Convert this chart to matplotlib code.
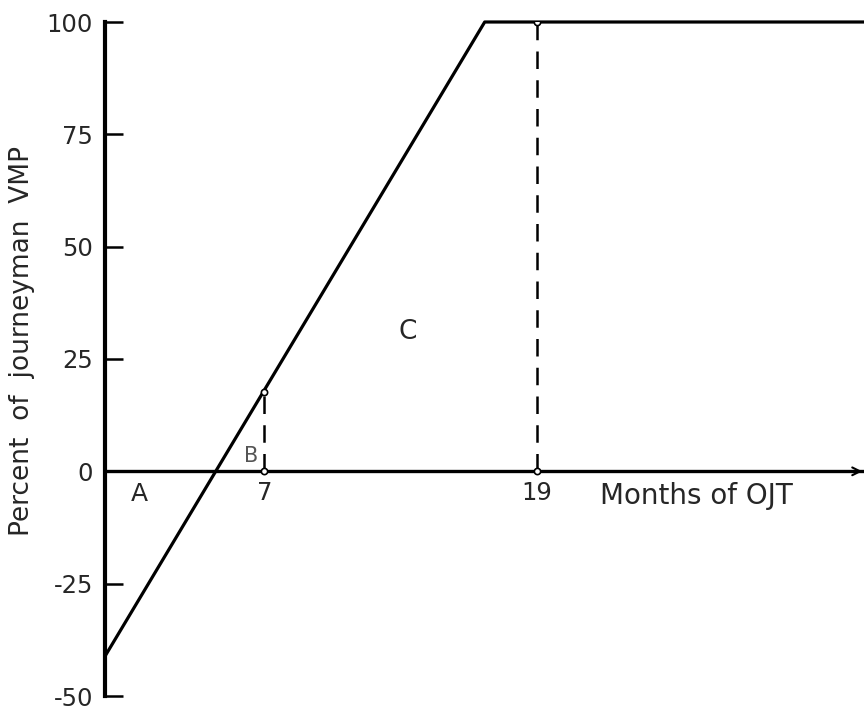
import matplotlib
matplotlib.use("Agg")
import matplotlib.pyplot as plt

# Data
vmp_months = [0, 16.7, 33.4]
vmp_percent = [-41, 100, 100]
marker_months = [7, 19]
marker_percent = [17.7, 100]
y_ticks = [-50, -25, 0, 25, 50, 75, 100]
x_tick_labels = ["7", "19"]
region_labels = ["A", "B", "C"]
region_x = [1.5, 6.4, 13.3]
region_y = [-5.0, 3.5, 31]

plt.rcParams['font.family'] = ['DejaVu Sans']
TXT = '#262626'

fig = plt.figure(figsize=(8.64, 7.10), dpi=100)
# y=-50 at ~696 px, y=100 at ~22 px
ax = fig.add_axes([0.122, 14 / 710, 0.878, 674 / 710])
ax.set_xlim(0, 33.4)
ax.set_ylim(-50, 100)

# main line
ax.plot(vmp_months, vmp_percent, color='black', lw=2.3, solid_capstyle='butt', clip_on=False, zorder=3)

# dashed verticals
for m, p in zip(marker_months, marker_percent):
    ax.plot([m, m], [0, p], color='black', lw=1.8, dashes=(7, 4.5), zorder=2)
    ax.plot([m, m], [0, p], linestyle='none', marker='o', ms=4.5, mfc='white', mec='black', mew=1.2, zorder=4)

# spines
for s in ['top', 'right']:
    ax.spines[s].set_visible(False)
ax.spines['left'].set_linewidth(3.0)
ax.spines['bottom'].set_position(('data', 0))
ax.spines['bottom'].set_linewidth(2.4)

ax.annotate('', xy=(33.45, 0), xytext=(32.2, 0),
            arrowprops=dict(arrowstyle='->', lw=1.5, color='black', mutation_scale=14),
            annotation_clip=False)

ax.set_yticks(y_ticks)
ax.set_yticklabels([str(v) for v in y_ticks])
ax.tick_params(axis='y', direction='in', length=13, width=1.8, labelsize=17.5, pad=9,
               colors='black', labelcolor=TXT)
ax.set_xticks(marker_months)
ax.set_xticklabels(x_tick_labels)
ax.tick_params(axis='x', length=0, labelsize=17.5, pad=7, labelcolor=TXT)

fig.text(0.026, 0.52, 'Percent  of  journeyman  VMP', rotation=90, fontsize=19,
         ha='center', va='center', color=TXT)
ax.text(26.0, -2.4, 'Months of OJT', fontsize=20, ha='center', va='top', color=TXT)

sizes = [18, 15, 19]
colors = [TXT, '#555555', TXT]
for lab, x, y, s, c in zip(region_labels, region_x, region_y, sizes, colors):
    ax.text(x, y, lab, fontsize=s, ha='center', va='center', color=c)

fig.savefig('out.png', dpi=100)
